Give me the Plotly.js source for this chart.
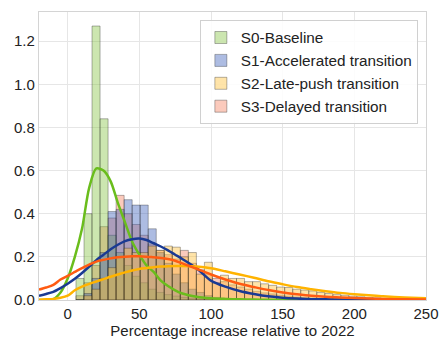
<!DOCTYPE html>
<html>
<head>
<meta charset="utf-8">
<script src="https://cdn.plot.ly/plotly-3.0.1.min.js"></script>
<style>html,body{margin:0;padding:0;background:#fff;}#chart{width:439px;height:339px;}</style>
</head>
<body>
<div id="chart"></div>
<script>
// Series names
const seriesNames = ["S0-Baseline", "S1-Accelerated transition", "S2-Late-push transition", "S3-Delayed transition"];

// Histogram bins (percentage increase)
const binStart = 5.8;
const binWidth = 5.6;

// Histogram densities per bin
const histS0 = [0.10, 0.40, 1.27, 0.84, 0.30, 0.22, 0.16, 0.11, 0.08, 0.05, 0.035, 0.025, 0.018, 0.012, 0.008, 0.005, 0.004, 0.003, 0.002, 0.001];
const histS1 = [0.0, 0.03, 0.10, 0.22, 0.41, 0.42, 0.465, 0.44, 0.44, 0.33, 0.22, 0.17, 0.12, 0.08, 0.05, 0.035, 0.02, 0.012, 0.008, 0.005, 0.003, 0.002, 0.001];
const histS2 = [0.0, 0.02, 0.05, 0.10, 0.15, 0.20, 0.24, 0.22, 0.22, 0.25, 0.23, 0.25, 0.245, 0.20, 0.22, 0.12, 0.175, 0.08, 0.115, 0.10, 0.10, 0.085, 0.085, 0.075, 0.068, 0.06, 0.058, 0.05, 0.046, 0.042, 0.035, 0.03, 0.025, 0.022, 0.018, 0.015, 0.012, 0.01, 0.008, 0.006, 0.005, 0.004, 0.003, 0.002];
const histS3 = [0.02, 0.08, 0.16, 0.34, 0.38, 0.485, 0.40, 0.35, 0.30, 0.26, 0.23, 0.21, 0.19, 0.23, 0.17, 0.14, 0.12, 0.10, 0.085, 0.07, 0.06, 0.05, 0.04, 0.033, 0.028, 0.022, 0.018, 0.014, 0.011, 0.009, 0.007, 0.005, 0.004, 0.003, 0.002, 0.002, 0.001];

// KDE curves
const kdeX = [-20, -15, -10, -5, 0, 5, 10, 15, 20, 25, 30, 35, 40, 45, 50, 55, 60, 65, 70, 75, 80, 90, 100, 110, 120, 130, 140, 150, 160, 170, 180, 190, 200, 210, 220, 235, 250];
const kdeS0 = [0.0, 0.0, 0.004, 0.035, 0.10, 0.20, 0.33, 0.52, 0.61, 0.60, 0.55, 0.45, 0.36, 0.27, 0.21, 0.16, 0.13, 0.09, 0.065, 0.045, 0.03, 0.015, 0.008, 0.005, 0.003, 0.002, 0.001, 0.001, 0.0, 0.0, 0.0, 0.0, 0.0, 0.0, 0.0, 0.0, 0.0];
const kdeS1 = [0.02, 0.028, 0.038, 0.055, 0.075, 0.098, 0.125, 0.155, 0.185, 0.21, 0.235, 0.256, 0.273, 0.282, 0.285, 0.278, 0.263, 0.248, 0.23, 0.21, 0.19, 0.147, 0.09, 0.062, 0.042, 0.028, 0.017, 0.011, 0.007, 0.004, 0.003, 0.002, 0.001, 0.001, 0.0, 0.0, 0.0];
const kdeS2 = [0.001, 0.003, 0.005, 0.01, 0.02, 0.045, 0.062, 0.075, 0.086, 0.097, 0.108, 0.118, 0.128, 0.137, 0.144, 0.148, 0.152, 0.155, 0.157, 0.158, 0.158, 0.155, 0.147, 0.133, 0.118, 0.103, 0.087, 0.073, 0.06, 0.05, 0.041, 0.033, 0.027, 0.022, 0.017, 0.012, 0.008];
const kdeS3 = [0.048, 0.058, 0.07, 0.095, 0.112, 0.13, 0.148, 0.164, 0.178, 0.186, 0.193, 0.198, 0.201, 0.203, 0.203, 0.201, 0.198, 0.195, 0.19, 0.182, 0.17, 0.145, 0.118, 0.095, 0.075, 0.06, 0.046, 0.035, 0.027, 0.02, 0.015, 0.012, 0.009, 0.007, 0.005, 0.003, 0.002];

// Axis ticks
const xTicks = [0, 50, 100, 150, 200, 250];
const yTicks = [0.0, 0.2, 0.4, 0.6, 0.8, 1.0, 1.2];
const xTitle = "Percentage increase relative to 2022";

const fillColors = ["rgba(133,195,66,0.42)", "rgba(60,95,185,0.42)", "rgba(255,190,50,0.42)", "rgba(246,128,95,0.42)"];
const lineColors = ["#6abd1c", "#1a3a93", "#ffb300", "#ff5b12"];

const hists = [histS0, histS1, histS2, histS3];
const kdes = [kdeS0, kdeS1, kdeS2, kdeS3];
const barDrawOrder = [3, 0, 1, 2];

const traces = [];
barDrawOrder.forEach((i) => {
  const h = hists[i];
  traces.push({
    type: "bar",
    name: seriesNames[i],
    legendrank: i + 1,
    x: h.map((_, k) => binStart + binWidth * (k + 0.5)),
    y: h,
    width: binWidth,
    marker: {color: fillColors[i], line: {color: "rgba(40,40,40,0.5)", width: 0.7}},
    showlegend: true,
    hoverinfo: "skip"
  });
});
kdes.forEach((k, i) => {
  traces.push({
    type: "scatter",
    mode: "lines",
    x: kdeX,
    y: k,
    line: {color: lineColors[i], width: 2.5, shape: "spline", smoothing: 0.8},
    showlegend: false,
    hoverinfo: "skip"
  });
});

const font = {family: "Liberation Sans, Arial, sans-serif", size: 15, color: "#222"};
const layout = {
  width: 439, height: 339,
  margin: {l: 39, r: 13, t: 12, b: 39},
  paper_bgcolor: "#fff", plot_bgcolor: "#fff",
  font: font,
  barmode: "overlay",
  bargap: 0,
  xaxis: {
    range: [-20, 250], tickvals: xTicks, ticks: "", showgrid: true, gridcolor: "#e6e6e6", gridwidth: 1,
    zeroline: false, showline: true, mirror: true, linecolor: "#d4d4d4", linewidth: 1.2,
    title: {text: xTitle, font: font, standoff: 2}, tickfont: font
  },
  yaxis: {
    range: [0, 1.335], tickvals: yTicks, tickformat: ".1f", ticks: "", showgrid: true, gridcolor: "#e6e6e6", gridwidth: 1,
    zeroline: false, showline: true, mirror: true, linecolor: "#d4d4d4", linewidth: 1.2, tickfont: font
  },
  legend: {
    x: 0.979, y: 0.972, xanchor: "right", yanchor: "top",
    bgcolor: "rgba(255,255,255,0.85)", bordercolor: "#d0d0d0", borderwidth: 1,
    font: {family: "Liberation Sans, Arial, sans-serif", size: 15.3, color: "#222"},
    tracegroupgap: 0, traceorder: "normal"
  },
  showlegend: true
};

Plotly.newPlot("chart", traces, layout, {staticPlot: true, displayModeBar: false});
</script>
</body>
</html>
